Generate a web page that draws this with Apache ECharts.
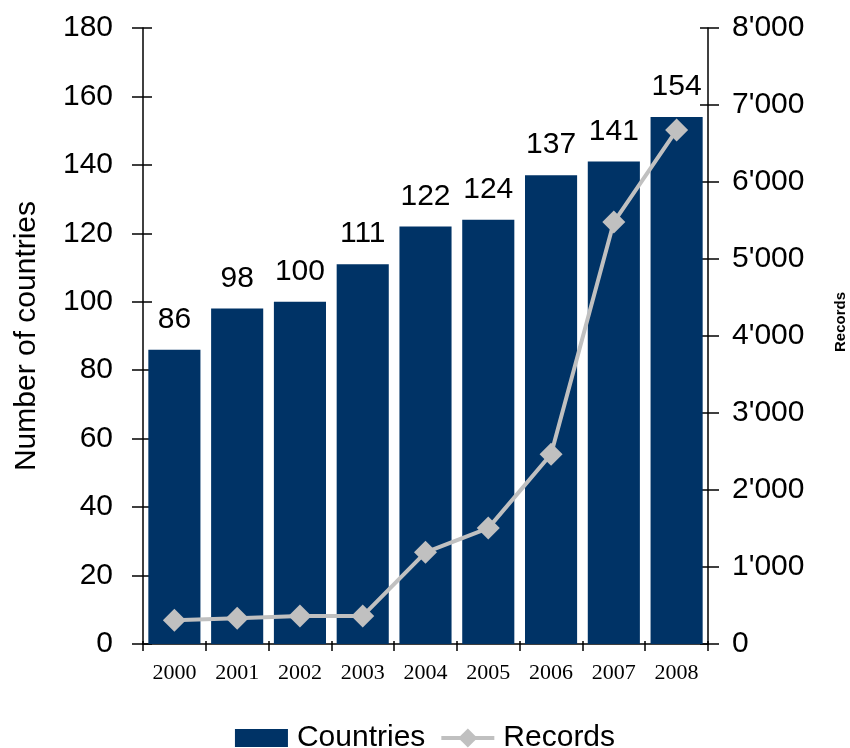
<!DOCTYPE html>
<html>
<head>
<meta charset="utf-8">
<script src="https://cdn.jsdelivr.net/npm/echarts@6/dist/echarts.min.js"></script>
<style>
html,body{margin:0;padding:0;background:#fff;}
#chart{width:850px;height:748px;}
</style>
</head>
<body>
<div id="chart"></div>
<script>
const years = ['2000','2001','2002','2003','2004','2005','2006','2007','2008'];
const countries = [86, 98, 100, 111, 122, 124, 137, 141, 154];
const records = [310, 335, 365, 365, 1190, 1505, 2465, 5480, 6675];
const countriesAxis = {min: 0, max: 180, interval: 20};
const recordsAxis = {min: 0, max: 8000, interval: 1000};

const SANS = 'Liberation Sans, Arial, sans-serif';
const SERIF = 'Liberation Serif, Times New Roman, serif';

function fmtThousands(v) {
  return String(v).replace(/\B(?=(\d{3})+(?!\d))/g, "'");
}

const chart = echarts.init(document.getElementById('chart'), null, {renderer: 'canvas'});
const axisLine = {show: true, lineStyle: {color: '#000', width: 1.5}};
const tickStyle = {color: '#000', width: 1.5};

chart.setOption({
  animation: false,
  backgroundColor: '#fff',
  grid: {left: 143, right: 142, top: 28, bottom: 104, containLabel: false, outerBoundsMode: 'none'},
  legend: {
    data: [
      {name: 'Countries', icon: 'path://M0,0L0.01,0M0,3L53,3L53,21L0,21ZM0,24L0.01,24'},
      {name: 'Records', lineStyle: {width: 4, color: '#c0c0c0'}}
    ],
    top: 718,
    left: 'center',
    itemWidth: 53,
    itemHeight: 24,
    itemGap: 14,
    textStyle: {fontFamily: SANS, fontSize: 30, color: '#000', padding: [0, 0, 0, 4]}
  },
  xAxis: [{
    type: 'category',
    data: years,
    position: 'bottom',
    boundaryGap: true,
    axisLine: axisLine,
    axisTick: {show: true, inside: false, length: 7, lineStyle: tickStyle},
    axisLabel: {fontFamily: SERIF, fontSize: 22, color: '#000', margin: 18},
    splitLine: {show: false}
  }, {
    type: 'category',
    data: years,
    position: 'bottom',
    boundaryGap: true,
    axisLine: {show: false},
    axisTick: {show: true, inside: true, length: 3, lineStyle: tickStyle},
    axisLabel: {show: false},
    splitLine: {show: false}
  }],
  yAxis: [{
    type: 'value',
    position: 'left',
    min: countriesAxis.min, max: countriesAxis.max, interval: countriesAxis.interval,
    name: 'Number of countries',
    nameLocation: 'middle',
    nameRotate: 90,
    nameGap: 101,
    nameTextStyle: {fontFamily: SANS, fontSize: 30, color: '#000'},
    axisLine: axisLine,
    axisTick: {show: true, inside: false, length: 11, lineStyle: tickStyle},
    axisLabel: {fontFamily: SANS, fontSize: 30, color: '#000', margin: 30},
    splitLine: {show: false}
  }, {
    type: 'value',
    position: 'right',
    min: recordsAxis.min, max: recordsAxis.max, interval: recordsAxis.interval,
    name: 'Records',
    nameLocation: 'middle',
    nameRotate: 90,
    nameGap: 125,
    nameTextStyle: {fontFamily: SANS, fontSize: 15, fontWeight: 'bold', color: '#000', padding: [0, 0, 0, 28]},
    axisLine: axisLine,
    axisTick: {show: true, inside: false, length: 11, lineStyle: tickStyle},
    axisLabel: {fontFamily: SANS, fontSize: 30, color: '#000', margin: 24, formatter: fmtThousands},
    splitLine: {show: false}
  }, {
    type: 'value',
    position: 'left',
    min: countriesAxis.min, max: countriesAxis.max, interval: countriesAxis.interval,
    axisLine: {show: false},
    axisTick: {show: true, inside: true, length: 9, lineStyle: tickStyle},
    axisLabel: {show: false},
    splitLine: {show: false}
  }, {
    type: 'value',
    position: 'right',
    min: recordsAxis.min, max: recordsAxis.max, interval: recordsAxis.interval,
    axisLine: {show: false},
    axisTick: {show: true, inside: true, length: 8, lineStyle: tickStyle},
    axisLabel: {show: false},
    splitLine: {show: false}
  }],
  series: [{
    name: 'Countries',
    type: 'bar',
    xAxisIndex: 0,
    yAxisIndex: 0,
    data: countries,
    barCategoryGap: '17%',
    itemStyle: {color: '#003366'},
    label: {show: true, position: 'top', distance: 15, fontFamily: SANS, fontSize: 30, color: '#000'}
  }, {
    name: 'Records',
    type: 'line',
    xAxisIndex: 0,
    yAxisIndex: 1,
    data: records,
    symbol: 'diamond',
    symbolSize: 23,
    itemStyle: {color: '#c0c0c0'},
    lineStyle: {color: '#c0c0c0', width: 4},
    z: 5
  }]
});
</script>
</body>
</html>
